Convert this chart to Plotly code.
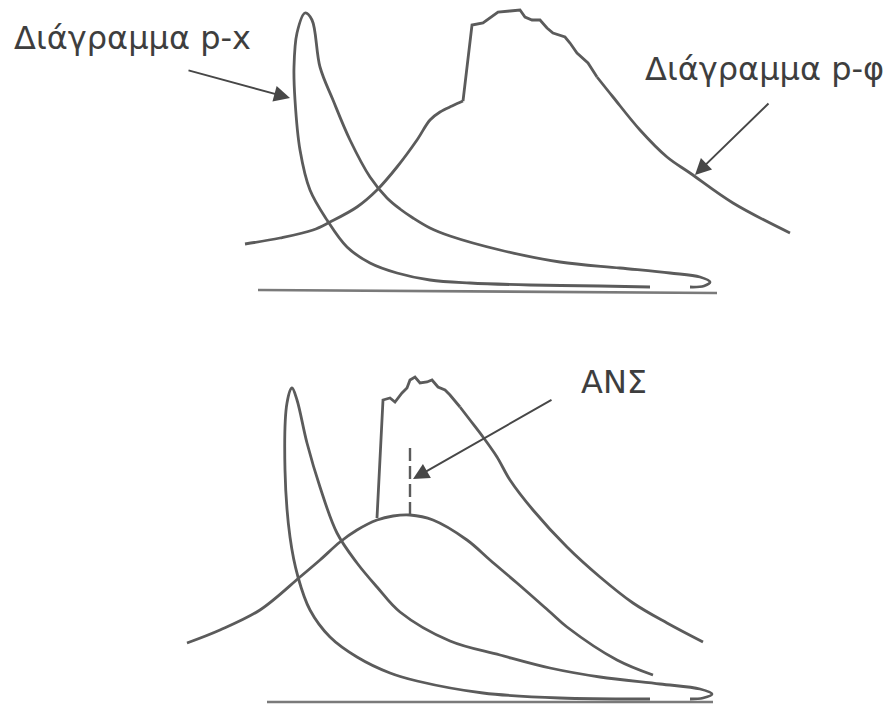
import plotly.graph_objects as go

W, H = 891, 709

# ---- upper sketch: pressure vs stroke (p-x) and pressure vs crank angle (p-φ) ----
top_px_x = [650, 600, 530, 470, 430, 397, 370, 347, 327, 310, 300, 295, 294, 297, 305,
            312, 320, 333, 350, 370, 387, 400, 413, 430, 450, 500, 560, 620, 670, 700, 710, 704, 690]
top_px_y = [287, 286, 285, 283, 280, 273, 263, 247, 220, 190, 150, 100, 67, 33, 13,
            20, 67, 100, 140, 177, 198, 209, 218, 228, 236, 250, 262, 268, 273, 277, 282, 286, 287]

top_pphi_rise_x = [245, 280, 313, 330, 357, 377, 397, 417, 430, 440, 452, 463]
top_pphi_rise_y = [244, 238, 230, 222, 207, 190, 167, 140, 120, 112, 106, 101]

top_pphi_burn_x = [463, 472, 483, 490, 498, 510, 520, 525, 532, 540, 547, 553, 565, 570, 577, 588, 597]
top_pphi_burn_y = [101, 25, 23, 18, 12, 11, 10, 17, 20, 20, 28, 33, 37, 43, 53, 63, 77]

top_pphi_fall_x = [597, 613, 640, 667, 690, 733, 790]
top_pphi_fall_y = [77, 97, 130, 157, 173, 203, 233]

top_base_x = [258, 717]
top_base_y = [290, 293]

# ---- lower sketch: motoring curve, firing curve and ignition delay ----
bot_px_x = [650, 560, 483, 417, 390, 357, 330, 310, 298, 290, 285, 287, 292,
            297, 307, 320, 337, 357, 377, 400, 450, 500, 550, 600, 660, 700, 712, 703, 690]
bot_px_y = [699, 698, 693, 681, 673, 657, 637, 610, 577, 537, 470, 403, 388,
            400, 443, 487, 533, 563, 587, 612, 641, 655, 668, 677, 684, 689, 694, 698, 699]

bot_motor_x = [187, 220, 260, 300, 320, 340, 357, 377, 393, 410, 433, 467, 490, 517, 550, 567, 617, 653]
bot_motor_y = [643, 630, 610, 577, 560, 542, 530, 520, 516, 515, 520, 540, 560, 583, 612, 627, 660, 675]

bot_fire_burn_x = [377, 380, 383, 390, 395, 402, 407, 410, 415, 420, 427, 432, 438, 445, 450, 460]
bot_fire_burn_y = [518, 460, 400, 398, 402, 393, 388, 380, 377, 383, 382, 380, 387, 390, 395, 407]

bot_fire_fall_x = [460, 470, 483, 497, 510, 533, 567, 600, 633, 667, 703]
bot_fire_fall_y = [407, 420, 437, 457, 480, 510, 547, 577, 603, 623, 642]

delay_x = [410, 410]
delay_y = [515, 445]

bot_base_x = [267, 713]
bot_base_y = [702, 702]

LINE = "#5b5b5b"
BASE = "#7a7a7a"
INK = "#3e3e3e"

fig = go.Figure()


def stroke(xs, ys, shape="spline", color=LINE, width=2.8, dash=None):
    fig.add_trace(go.Scatter(
        x=xs, y=ys, mode="lines",
        line=dict(color=color, width=width, shape=shape, dash=dash),
        hoverinfo="skip", showlegend=False,
    ))


stroke(top_base_x, top_base_y, shape="linear", color=BASE, width=2.6)
stroke(top_px_x, top_px_y)
stroke(top_pphi_rise_x, top_pphi_rise_y)
stroke(top_pphi_burn_x, top_pphi_burn_y, shape="linear")
stroke(top_pphi_fall_x, top_pphi_fall_y)

stroke(bot_base_x, bot_base_y, shape="linear", color=BASE, width=2.6)
stroke(bot_px_x, bot_px_y)
stroke(bot_motor_x, bot_motor_y)
stroke(bot_fire_burn_x, bot_fire_burn_y, shape="linear")
stroke(bot_fire_fall_x, bot_fire_fall_y)
stroke(delay_x, delay_y, shape="linear", width=2.4, dash="13px,5px")

FONT = dict(family="DejaVu Sans", size=32, color=INK)

labels = [
    dict(text="Διάγραμμα p-x", x=12, y=38, xanchor="left"),
    dict(text="Διάγραμμα p-φ", x=643, y=69, xanchor="left"),
    dict(text="ΑΝΣ", x=579, y=382, xanchor="left"),
]
for lb in labels:
    fig.add_annotation(text=lb["text"], x=lb["x"], y=lb["y"], xref="x", yref="y",
                       xanchor=lb["xanchor"], yanchor="middle", showarrow=False, font=FONT)

# pointer arrows: (tail x, tail y, head x, head y)
arrows = [
    (187, 70, 290, 98),
    (770, 102, 695, 175),
    (553, 399, 413, 479),
]
for tx, ty, hx, hy in arrows:
    fig.add_annotation(x=hx, y=hy, ax=tx, ay=ty, xref="x", yref="y", axref="x", ayref="y",
                       text="", showarrow=True, arrowhead=2, arrowsize=1.6,
                       arrowwidth=2, arrowcolor="#474747")

fig.update_layout(
    width=W, height=H,
    margin=dict(l=0, r=0, t=0, b=0),
    paper_bgcolor="white", plot_bgcolor="white",
    xaxis=dict(range=[0, W], visible=False, fixedrange=True),
    yaxis=dict(range=[H, 0], visible=False, fixedrange=True),
)

fig.write_html("out.html")
